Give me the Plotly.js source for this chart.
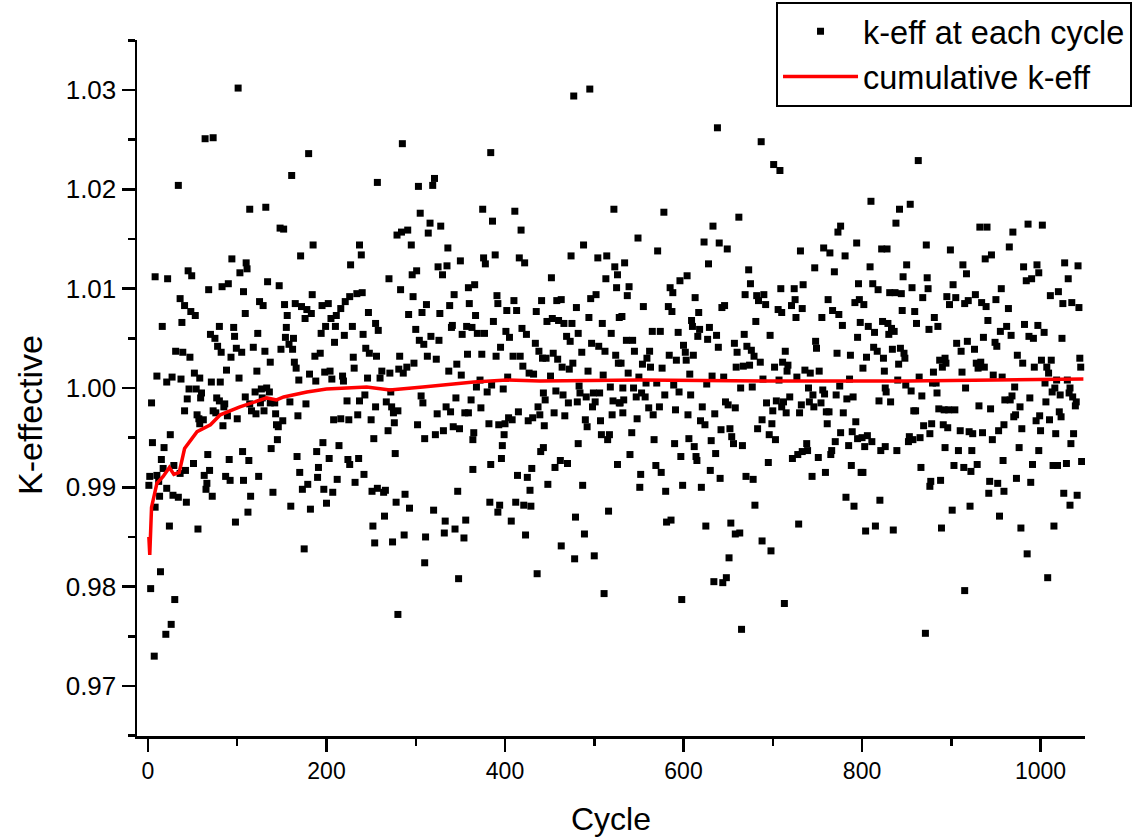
<!DOCTYPE html>
<html>
<head>
<meta charset="utf-8">
<script src="https://cdn.plot.ly/plotly-3.0.1.min.js"></script>
<style>
html,body{margin:0;padding:0;background:#fff;}
#chart{width:1136px;height:837px;}
</style>
</head>
<body>
<div id="chart"></div>
<script>
// k-eff at each cycle (cycle number, k value) in groups
const cycA = [101,64,73,180,34,161,257,114,132,148,
152,185,237,171,239,94,227,110,111,103,
8,22,45,49,68,83,90,107,134,147,
184,36,41,48,53,16,38,125,129,109,
153,156,165,172,178,183,176,195,202,216,
221,226,234,240,205,211,247,255,80,96,
97,70,75,78,82,123,155,154,163,158,
162,149,199,210,194,220,229,241,209,258,
31,39,47,99,105,93,118,131,137,164,
166,187,193,230,231,244,248,256,88,122,
10,21,27,37,52,58,71,81,102,169,
181,188,198,204,206,218,219,246];
const kA = [1.0302,1.0251,1.0252,1.0236,1.0204,1.0214,1.0207,1.0180,1.0182,1.0161,
1.0160,1.0144,1.0144,1.0133,1.0134,1.0130,1.0124,1.0126,1.0120,1.0116,
1.0112,1.0110,1.0118,1.0113,1.0099,1.0102,1.0105,1.0097,1.0107,1.0103,
1.0094,1.0090,1.0083,1.0077,1.0073,1.0062,1.0066,1.0087,1.0083,1.0075,
1.0084,1.0073,1.0085,1.0082,1.0079,1.0075,1.0070,1.0083,1.0085,1.0080,
1.0087,1.0092,1.0095,1.0096,1.0070,1.0073,1.0076,1.0065,1.0062,1.0061,
1.0052,1.0054,1.0050,1.0042,1.0036,1.0055,1.0061,1.0051,1.0050,1.0044,
1.0039,1.0039,1.0062,1.0062,1.0055,1.0053,1.0062,1.0054,1.0046,1.0058,
1.0037,1.0036,1.0031,1.0040,1.0036,1.0031,1.0041,1.0037,1.0026,1.0026,
1.0020,1.0032,1.0035,1.0031,1.0020,1.0040,1.0035,1.0032,1.0018,1.0017,
1.0012,1.0006,1.0011,1.0009,1.0015,1.0010,1.0006,1.0006,1.0010,1.0008,
1.0014,1.0007,1.0016,1.0017,1.0009,1.0012,1.0007,1.0010];

const cycB = [4,46,54,60,59,44,77,80,86,85,
41,73,76,55,57,62,58,84,89,100,
109,114,120,127,133,136,128,126,116,121,
130,137,142,143,144,151,146,159,177,168,
223,237,243,208,216,225,235,250,255,5,
25,18,15,29,51,67,91,106,113,138,
145,167,189,196,203,214,224,226,236,253,
2,1,10,17,12,21,13,28,34,43,
36,42,63,69,66,65,72,87,92,107,
124,115,140,112,98,56,24,8,160,170,
179,173,191,190,197,207,182,200,212,232,
242,251,257,252,254,175,14,3,30,26,
20,7];
const kB = [0.9985,0.9999,0.9999,0.9995,0.9990,0.9989,0.9990,0.9987,0.9984,0.9981,
0.9977,0.9977,0.9975,0.9973,0.9969,0.9968,0.9964,0.9962,0.9972,0.9969,
0.9991,0.9984,0.9996,0.9999,1.0000,0.9996,0.9990,0.9985,0.9977,0.9974,
0.9977,0.9985,0.9985,0.9974,0.9963,0.9967,0.9961,0.9986,0.9984,0.9972,
0.9987,0.9987,0.9993,0.9968,0.9969,0.9968,0.9973,0.9968,0.9981,0.9945,
0.9953,0.9940,0.9928,0.9922,0.9924,0.9933,0.9928,0.9936,0.9927,0.9939,
0.9948,0.9931,0.9936,0.9945,0.9929,0.9942,0.9928,0.9923,0.9929,0.9949,
0.9911,0.9902,0.9912,0.9919,0.9906,0.9899,0.9891,0.9892,0.9890,0.9885,
0.9914,0.9917,0.9912,0.9917,0.9904,0.9898,0.9891,0.9911,0.9907,0.9907,
0.9911,0.9891,0.9895,0.9875,0.9865,0.9858,0.9861,0.9880,0.9881,0.9915,
0.9903,0.9898,0.9920,0.9910,0.9898,0.9895,0.9878,0.9884,0.9908,0.9905,
0.9913,0.9896,0.9899,0.9861,0.9844,0.9838,0.9815,0.9798,0.9787,0.9762,
0.9752,0.9730];

const cycC = [477,495,285,384,303,319,321,305,375,411,
386,418,522,279,284,291,316,314,328,295,
336,488,350,376,378,389,416,422,474,504,
514,523,526,513,525,270,325,335,330,296,
301,452,283,297,343,359,366,312,307,292,
338,327,360,367,391,392,410,402,413,441,
458,463,435,480,502,496,494,300,340,341,
357,363,352,369,377,387,401,405,419,424,
447,453,460,466,475,469,473,482,509,519,
528,304,309,317,326,434,438,442,454,446,
395,459,464,476,472,497,505,512,486,493,
524,527,282,313,323,358,374,390,409,417,
420,427,432,451,346,337,298,290,281,286,
271,262,260,351,372,403,510,483,518];
const kC = [1.0294,1.0301,1.0246,1.0237,1.0203,1.0204,1.0211,1.0176,1.0180,1.0178,
1.0168,1.0159,1.0180,1.0154,1.0157,1.0159,1.0166,1.0156,1.0163,1.0144,
1.0141,1.0144,1.0128,1.0131,1.0125,1.0134,1.0131,1.0126,1.0133,1.0131,
1.0133,1.0122,1.0114,1.0110,1.0101,1.0110,1.0122,1.0123,1.0114,1.0114,
1.0118,1.0111,1.0099,1.0092,1.0094,1.0101,1.0104,1.0084,1.0076,1.0074,
1.0083,1.0075,1.0085,1.0073,1.0093,1.0085,1.0088,1.0078,1.0078,1.0088,
1.0088,1.0089,1.0077,1.0081,1.0094,1.0090,1.0071,1.0059,1.0061,1.0063,
1.0062,1.0061,1.0054,1.0055,1.0055,1.0067,1.0057,1.0051,1.0060,1.0054,
1.0067,1.0070,1.0068,1.0065,1.0065,1.0052,1.0047,1.0055,1.0065,1.0055,
1.0071,1.0048,1.0044,1.0052,1.0048,1.0045,1.0037,1.0030,1.0035,1.0030,
1.0041,1.0029,1.0021,1.0025,1.0019,1.0045,1.0042,1.0037,1.0036,1.0017,
1.0033,1.0025,1.0032,1.0032,1.0029,1.0034,1.0034,1.0032,1.0032,1.0032,
1.0022,1.0015,1.0014,1.0012,1.0024,1.0017,1.0025,1.0021,1.0019,1.0015,
1.0015,1.0017,1.0010,1.0013,1.0008,1.0011,1.0013,1.0002,1.0001];

const cycD = [398,368,380,385,306,308,272,345,362,267,
273,275,280,276,269,302,310,277,324,334,
339,322,331,342,349,355,359,373,365,364,
382,393,400,404,408,399,397,396,415,426,
431,437,439,443,445,444,455,457,465,471,
467,484,481,491,499,506,501,498,490,492,
507,520,521,529,508,515,517,482,440,443,
364,384,414,425,430,428,448,456,462,470,
487,526,264,266,278,288,293,265,274,287,
311,320,333,332,344,347,356,354,383,394,
392,407,412,421,429,423,479,489,463,478,
500,516,310,348,436,511,280];
const kD = [0.9999,1.0001,0.9996,1.0003,0.9992,0.9985,0.9996,0.9990,0.9988,0.9986,
0.9981,0.9975,0.9977,0.9965,0.9957,0.9963,0.9949,0.9934,0.9974,0.9981,
0.9976,0.9953,0.9957,0.9961,0.9959,0.9975,0.9975,0.9980,0.9955,0.9948,
0.9964,0.9963,0.9964,0.9970,0.9968,0.9953,0.9942,0.9929,0.9976,0.9967,
0.9970,0.9981,0.9973,0.9995,0.9988,0.9962,0.9975,0.9997,0.9993,0.9985,
0.9972,0.9995,0.9986,0.9991,0.9995,0.9995,0.9986,0.9981,0.9968,0.9961,
0.9967,0.9973,0.9987,0.9985,0.9953,0.9948,0.9953,0.9944,0.9936,0.9940,
0.9918,0.9923,0.9912,0.9910,0.9919,0.9897,0.9903,0.9920,0.9927,0.9924,
0.9902,0.9923,0.9895,0.9897,0.9885,0.9893,0.9879,0.9871,0.9845,0.9852,
0.9850,0.9877,0.9866,0.9854,0.9858,0.9896,0.9867,0.9849,0.9885,0.9882,
0.9875,0.9866,0.9885,0.9882,0.9881,0.9852,0.9870,0.9853,0.9841,0.9828,
0.9831,0.9876,0.9824,0.9808,0.9813,0.9793,0.9772];

const cycE = [638,687,701,708,578,662,633,549,623,640,
649,571,731,757,764,781,773,776,794,534,
628,673,675,604,596,747,769,539,537,585,
588,613,669,709,724,734,796,555,583,587,
617,643,646,682,690,684,692,706,710,721,
725,733,726,762,767,774,792,797,755,531,
536,543,565,574,594,609,610,618,629,616,
627,637,681,668,697,778,798,795,748,749,
545,530,562,559,554,563,576,584,592,600,
602,603,611,639,657,660,671,676,679,686,
659,667,674,702,711,717,716,714,772,787,
736,742,752,727,538,550,532,544,607,589,
558,570,632,645,626,664,677,689,707,740,
756,775,786];
const kE = [1.0262,1.0248,1.0225,1.0219,1.0177,1.0172,1.0163,1.0151,1.0147,1.0146,
1.0140,1.0138,1.0138,1.0141,1.0136,1.0133,1.0157,1.0163,1.0146,1.0126,
1.0125,1.0119,1.0105,1.0113,1.0108,1.0121,1.0117,1.0102,1.0093,1.0101,
1.0096,1.0091,1.0094,1.0100,1.0100,1.0104,1.0105,1.0082,1.0082,1.0077,
1.0076,1.0081,1.0083,1.0093,1.0094,1.0088,1.0084,1.0079,1.0076,1.0083,
1.0089,1.0080,1.0071,1.0089,1.0078,1.0074,1.0086,1.0089,1.0071,1.0072,
1.0048,1.0048,1.0057,1.0057,1.0056,1.0068,1.0062,1.0059,1.0061,1.0052,
1.0049,1.0053,1.0067,1.0054,1.0053,1.0063,1.0066,1.0051,1.0047,1.0040,
1.0037,1.0025,1.0037,1.0030,1.0024,1.0021,1.0020,1.0033,1.0028,1.0043,
1.0036,1.0028,1.0033,1.0041,1.0045,1.0036,1.0042,1.0038,1.0032,1.0026,
1.0021,1.0022,1.0023,1.0021,1.0026,1.0023,1.0017,1.0037,1.0035,1.0033,
1.0018,1.0015,1.0017,1.0011,1.0015,1.0011,1.0000,1.0000,1.0014,1.0003,
1.0005,1.0005,1.0012,1.0011,1.0004,1.0000,1.0001,1.0009,1.0008,1.0000,
0.9998,1.0002,1.0009];

const cycF = [595,528,533,547,553,557,579,608,532,548,
561,566,573,591,605,621,635,619,624,647,
650,658,542,567,590,606,612,631,642,652,
654,656,666,693,700,704,712,715,719,710,
688,683,696,703,699,732,730,741,745,746,
754,758,760,771,763,779,783,790,761,793,
776,770,785,789,795,738,739,733,728,722,
751,766,765,788,799,759,744,695,540,569,
575,552,597,614,615,636,630,641,670,678,
551,580,599,620,680,782,791,581,586,625,
653,658,663,688,698,729,651,634,644,648,
598,713,665];
const kF = [0.9996,0.9985,0.9988,0.9991,0.9995,0.9991,0.9993,0.9993,0.9975,0.9969,
0.9980,0.9973,0.9981,0.9978,0.9973,0.9981,0.9974,0.9967,0.9963,0.9986,
0.9983,0.9980,0.9955,0.9948,0.9944,0.9949,0.9941,0.9947,0.9958,0.9959,
0.9951,0.9944,0.9942,0.9985,0.9977,0.9987,0.9986,0.9975,0.9991,0.9981,
0.9968,0.9959,0.9953,0.9948,0.9964,0.9983,0.9975,0.9986,0.9993,0.9981,
0.9985,0.9994,0.9976,0.9993,0.9976,0.9975,0.9989,0.9991,0.9964,0.9966,
0.9955,0.9946,0.9942,0.9956,0.9949,0.9944,0.9937,0.9936,0.9933,0.9929,
0.9930,0.9937,0.9933,0.9922,0.9915,0.9915,0.9911,0.9925,0.9933,0.9922,
0.9915,0.9913,0.9931,0.9931,0.9927,0.9934,0.9917,0.9909,0.9911,0.9908,
0.9900,0.9896,0.9902,0.9900,0.9882,0.9890,0.9881,0.9865,0.9867,0.9861,
0.9864,0.9853,0.9854,0.9846,0.9836,0.9863,0.9829,0.9805,0.9804,0.9809,
0.9787,0.9783,0.9757];

const cycG = [863,810,842,854,838,822,828,872,899,932,
940,969,986,1002,965,938,945,809,850,846,
873,874,856,831,837,844,812,818,913,917,
902,956,981,984,990,996,998,1027,1042,1031,
1011,1020,868,802,845,859,881,885,875,895,
905,898,915,919,927,934,939,950,964,941,
807,814,823,829,833,836,830,861,955,962,
967,982,997,1004,987,992,1024,1025,1035,1043,
936,949,951,906,911,918,926,813,817,824,
834,843,847,848,841,805,801,825,887,893,
894,890,880,912,928,933,930,937,974,980,
993,1001,1012,1007,1009,1044,1045,840,864,879,
947,957,971,916,826,1018,1030,1016,1033,849,
883,1005,855];
const kG = [1.0229,1.0188,1.0180,1.0185,1.0166,1.0140,1.0140,1.0144,1.0139,1.0162,
1.0162,1.0157,1.0165,1.0164,1.0142,1.0130,1.0134,1.0122,1.0124,1.0112,
1.0111,1.0100,1.0101,1.0096,1.0096,1.0095,1.0105,1.0099,1.0124,1.0115,
1.0104,1.0100,1.0122,1.0108,1.0110,1.0124,1.0116,1.0126,1.0123,1.0110,
1.0093,1.0097,1.0091,1.0084,1.0078,1.0077,1.0071,1.0062,1.0059,1.0092,
1.0091,1.0084,1.0085,1.0088,1.0094,1.0086,1.0082,1.0089,1.0080,1.0068,
1.0062,1.0056,1.0067,1.0065,1.0060,1.0057,1.0054,1.0065,1.0057,1.0062,
1.0053,1.0064,1.0063,1.0056,1.0052,1.0050,1.0050,1.0085,1.0086,1.0081,
1.0051,1.0046,1.0042,1.0045,1.0037,1.0047,1.0039,1.0041,1.0037,1.0030,
1.0039,1.0040,1.0035,1.0030,1.0024,1.0031,1.0020,1.0017,1.0028,1.0030,
1.0025,1.0021,1.0016,1.0016,1.0025,1.0026,1.0020,1.0021,1.0033,1.0025,
1.0021,1.0028,1.0028,1.0021,1.0015,1.0030,1.0021,1.0008,1.0011,1.0005,
1.0013,1.0011,1.0001,1.0000,1.0000,1.0008,1.0008,1.0000,1.0000,1.0003,
1.0005,1.0005,0.9997];

const cycH = [827,819,832,867,884,858,860,886,892,897,
904,931,944,960,968,966,977,972,970,988,
1006,1013,1022,1032,1036,1040,1039,1021,1023,1010,
999,995,800,806,803,811,821,826,839,853,
852,857,865,869,876,878,891,896,910,920,
924,935,893,908,923,946,953,959,979,976,
1000,998,1017,1037,1034,801,866,903,914,922,
929,958,991,1014,1019,1029,1046,877,876,888,
943,952,959,942,973,989,1026,1041,1033,820,
901,921,954,804,815,835,889,978,1015,985,
1008,915,871];
const kH = [0.9996,0.9987,0.9986,0.9992,0.9995,0.9977,0.9977,0.9979,0.9978,0.9978,
0.9978,0.9982,0.9979,0.9988,0.9992,0.9988,0.9981,0.9973,0.9971,0.9990,
0.9986,0.9996,0.9993,0.9995,0.9991,0.9986,0.9982,0.9976,0.9971,0.9968,
0.9972,0.9967,0.9950,0.9952,0.9941,0.9946,0.9937,0.9941,0.9937,0.9951,
0.9946,0.9948,0.9950,0.9962,0.9954,0.9964,0.9963,0.9960,0.9957,0.9956,
0.9954,0.9955,0.9940,0.9937,0.9937,0.9948,0.9957,0.9963,0.9959,0.9940,
0.9957,0.9937,0.9954,0.9954,0.9944,0.9915,0.9920,0.9922,0.9920,0.9916,
0.9923,0.9927,0.9923,0.9922,0.9922,0.9924,0.9926,0.9906,0.9901,0.9907,
0.9906,0.9904,0.9896,0.9894,0.9909,0.9905,0.9894,0.9892,0.9882,0.9887,
0.9877,0.9881,0.9871,0.9856,0.9861,0.9857,0.9859,0.9859,0.9861,0.9833,
0.9809,0.9796,0.9753];

// cumulative k-eff
const cumCycle = [1,2,4,7,10,17,24,29,35,41,55,70,81,103,133,144,152,178,200,245,271,308,365,402,439,551,700,850,1048];
const cumKeff  = [0.9850,0.9832,0.9880,0.9894,0.9904,0.9911,0.9920,0.9913,0.9915,0.9939,0.9956,0.9963,0.9973,0.9981,0.9990,0.9988,0.9991,0.9996,0.9999,1.0001,0.9998,1.0001,1.0006,1.0008,1.0007,1.0008,1.0007,1.0007,1.0009];

const groups = [[cycA,kA],[cycB,kB],[cycC,kC],[cycD,kD],[cycE,kE],[cycF,kF],[cycG,kG],[cycH,kH]];
const cycles = [], keff = [];
groups.forEach(function(g, i){
  if (g[0].length !== g[1].length) console.error('length mismatch in group ' + i);
  const n = Math.min(g[0].length, g[1].length);
  for (let j = 0; j < n; j++) { cycles.push(g[0][j]); keff.push(g[1][j]); }
});

const FONT = 'Liberation Sans, Arial, sans-serif';

const traces = [
  {
    x: cycles, y: keff, type: 'scatter', mode: 'markers',
    name: 'k-eff at each cycle',
    marker: {symbol: 'square', size: 7, color: '#000000'}
  },
  {
    x: cumCycle, y: cumKeff, type: 'scatter', mode: 'lines',
    name: 'cumulative k-eff',
    line: {color: '#ff0000', width: 3.5}
  }
];

const layout = {
  width: 1136, height: 837,
  margin: {l: 137, r: 51, t: 40, b: 101, pad: 0, autoexpand: false},
  paper_bgcolor: '#ffffff', plot_bgcolor: '#ffffff',
  font: {family: FONT, color: '#000000'},
  showlegend: true,
  legend: {
    x: 1.0496, xanchor: 'right', y: 1.055, yanchor: 'top',
    bgcolor: '#ffffff', bordercolor: '#000000', borderwidth: 2,
    font: {family: FONT, size: 32.5, color: '#000000'},
    itemwidth: 75, tracegroupgap: 0
  },
  xaxis: {
    range: [-12.3, 1049.8], tick0: 0, dtick: 200,
    showgrid: false, zeroline: false,
    showline: true, linecolor: '#000000', linewidth: 2.5,
    ticks: 'outside', ticklen: 13, tickwidth: 2.5, tickcolor: '#000000',
    minor: {dtick: 100, ticks: 'outside', ticklen: 7, tickwidth: 2.5, tickcolor: '#000000', showgrid: false},
    tickfont: {family: FONT, size: 23, color: '#000000'},
    title: {text: 'Cycle', font: {family: FONT, size: 32, color: '#000000'}}
  },
  yaxis: {
    range: [0.96496, 1.03504], tick0: 0.97, dtick: 0.01, tickformat: '.2f',
    showgrid: false, zeroline: false,
    showline: true, linecolor: '#000000', linewidth: 2.5,
    ticks: 'outside', ticklen: 13, tickwidth: 2.5, tickcolor: '#000000',
    minor: {dtick: 0.005, ticks: 'outside', ticklen: 7, tickwidth: 2.5, tickcolor: '#000000', showgrid: false},
    tickfont: {family: FONT, size: 26, color: '#000000'}
  },
  annotations: [{
    text: 'K-effective', textangle: -90, showarrow: false,
    xref: 'paper', yref: 'paper', x: -0.1129, y: 0.4612,
    xanchor: 'center', yanchor: 'middle',
    font: {family: FONT, size: 34, color: '#000000'}
  }]
};

Plotly.newPlot('chart', traces, layout, {displayModeBar: false, staticPlot: true});
</script>
</body>
</html>
